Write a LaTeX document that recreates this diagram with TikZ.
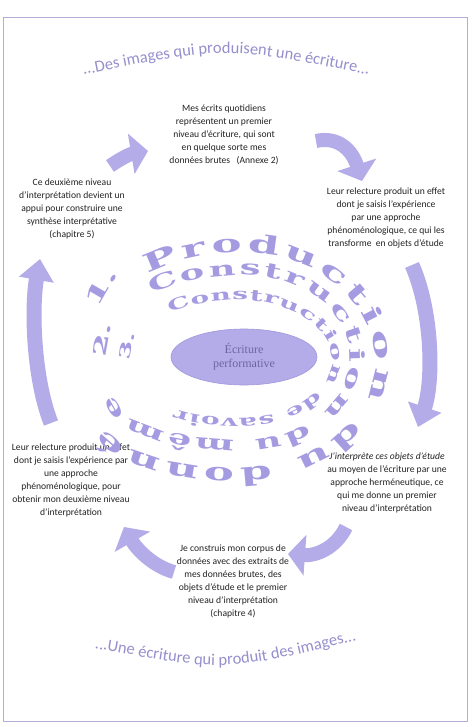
\documentclass[tikz,border=0pt]{standalone}
\usepackage{fontspec}
\setmainfont{Carlito}
\newfontfamily\ringfont[FakeStretch=1.8,UprightFont={* Bold}]{DejaVu Serif}
\newfontfamily\ctrfont{Liberation Serif}
\usetikzlibrary{decorations.text,arrows.meta,shapes.geometric,calc}
\definecolor{lav}{RGB}{180,172,232}
\definecolor{lavedge}{RGB}{160,152,220}
\definecolor{titlecol}{RGB}{150,143,205}
\definecolor{ringcol}{RGB}{165,155,225}
\definecolor{txt}{RGB}{35,35,35}
\definecolor{framecol}{RGB}{180,172,212}
\definecolor{ctrtxt}{RGB}{110,100,165}
\begin{document}
\begin{tikzpicture}[x=1pt,y=-1pt,
  txtbox/.style={align=center,font=\fontsize{9.6}{13}\selectfont,text=txt,inner sep=0pt},
  shortarrow/.style={draw=lav,line width=14pt,-{Triangle[width=40pt,length=17pt]}},
  longarrow/.style={draw=lav,line width=15pt,-{Triangle[width=34pt,length=21pt]}},
  ringnum/.style={text=ringcol,inner sep=0pt,font=\ringfont\fontsize{#1}{#1}\selectfont},
]
\useasboundingbox (0,0) rectangle (471,727);
\fill[white] (0,0) rectangle (471,727);
\draw[framecol,line width=1pt] (3,18) rectangle (467,721);

% titles
\path[decorate,decoration={text along path,text align=center,
  text={|\fontsize{16.5}{17}\selectfont\color{titlecol}|...Des images qui produisent une écriture...}}]
  (82,75) .. controls (226,46) .. (370,75);
\path[decorate,decoration={text along path,text align=center,
  text={|\fontsize{16.5}{17}\selectfont\color{titlecol}|...Une écriture qui produit des images...}}]
  (93,648) .. controls (225,672) .. (358,640);

% text nodes
\node[txtbox] (t1) at (224,135) {Mes écrits quotidiens\\représentent un premier\\niveau d'écriture, qui sont\\en quelque sorte mes\\données brutes\ \ \ (Annexe 2)};
\node[txtbox] (t2) at (386,218) {Leur relecture produit un effet\\dont je saisis l'expérience\\par une approche\\phénoménologique, ce qui les\\transforme\ \ en objets d'étude};
\node[txtbox] (t3) at (387,483) {\itshape J'interprète ces objets d'étude\\au moyen de l'écriture par une\\approche herméneutique, ce\\qui me donne un premier\\niveau d'interprétation};
\node[txtbox] (t4) at (233,581) {Je construis mon corpus de\\données avec des extraits de\\mes données brutes, des\\objets d'étude et le premier\\niveau d'interprétation\\(chapitre 4)};
\node[txtbox] (t5) at (71,480) {Leur relecture produit un effet\\dont je saisis l'expérience par\\une approche\\phénoménologique, pour\\obtenir mon deuxième niveau\\d'interprétation};
\node[txtbox] (t6) at (72,209) {Ce deuxième niveau\\d'interprétation devient un\\appui pour construire une\\synthèse interprétative\\(chapitre 5)};

% arrows
\coordinate (a1s) at (316,141); \coordinate (a1e) at (362,181);
\coordinate (a2s) at (412,265); \coordinate (a2e) at (418,427);
\coordinate (a3s) at (346,527); \coordinate (a3e) at (288,554);
\coordinate (a4s) at (174,572); \coordinate (a4e) at (124,527);
\coordinate (a5s) at (51,423);  \coordinate (a5e) at (40,259);
\coordinate (a6s) at (110,166); \coordinate (a6e) at (148,151);
\draw[shortarrow] (a1s) .. controls (338,136) and (352,150) .. (a1e);
\draw[longarrow]  (a2s) .. controls (432,310) and (434,380) .. (a2e);
\draw[shortarrow] (a3s) .. controls (336,548) and (316,556) .. (a3e);
\draw[shortarrow] (a4s) .. controls (152,566) and (136,548) .. (a4e);
\draw[longarrow]  (a5s) .. controls (34,380) and (31,310) .. (a5e);
\draw[shortarrow] (a6s) .. controls (120,159) and (130,154) .. (a6e);

% spiral rings (chains of quarter ellipses)
\node[ringnum=22,rotate=60] (n1) at (101,287) {1.};
\node[ringnum=18,rotate=80] (n2) at (102,340) {2.};
\node[ringnum=15,rotate=80] (n3) at (127,346) {3.};
\coordinate (o1) at (240,356);
\coordinate (m1) at (245,350);
\coordinate (i1) at (240,352);
\path[decorate,decoration={text along path,text align={fit to path},
  text={|\ringfont\fontsize{25}{25}\selectfont\color{ringcol}|Production du donné}}]
  (o1) ++(232:150 and 104)
  arc[start angle=232,end angle=270,x radius=150,y radius=104]
  arc[start angle=270,end angle=360,x radius=135,y radius=110]
  arc[start angle=0,end angle=90,x radius=135,y radius=106]
  arc[start angle=90,end angle=172,x radius=135,y radius=48];
\path[decorate,decoration={text along path,text align={fit to path},
  text={|\ringfont\fontsize{20.5}{20.5}\selectfont\color{ringcol}|Construction du même}}]
  (m1) ++(228:140 and 75)
  arc[start angle=228,end angle=270,x radius=140,y radius=75]
  arc[start angle=270,end angle=360,x radius=105,y radius=82]
  arc[start angle=0,end angle=90,x radius=105,y radius=83]
  arc[start angle=90,end angle=185,x radius=128,y radius=42];
\path[decorate,decoration={text along path,text align={fit to path},
  text={|\ringfont\fontsize{15.5}{15.5}\selectfont\color{ringcol}|Construction de savoir}}]
  (i1) ++(228:105 and 52)
  arc[start angle=228,end angle=270,x radius=105,y radius=52]
  arc[start angle=270,end angle=360,x radius=92,y radius=60]
  arc[start angle=0,end angle=90,x radius=92,y radius=58]
  arc[start angle=90,end angle=150,x radius=75,y radius=18];

% centre
\node[ellipse,fill=lav,draw=lavedge,line width=0.6pt,minimum width=146pt,minimum height=56pt,
  align=center,text=ctrtxt,font=\ctrfont\fontsize{12}{14}\selectfont] (ctr) at (244,357) {Écriture\\performative};
\end{tikzpicture}
\end{document}
